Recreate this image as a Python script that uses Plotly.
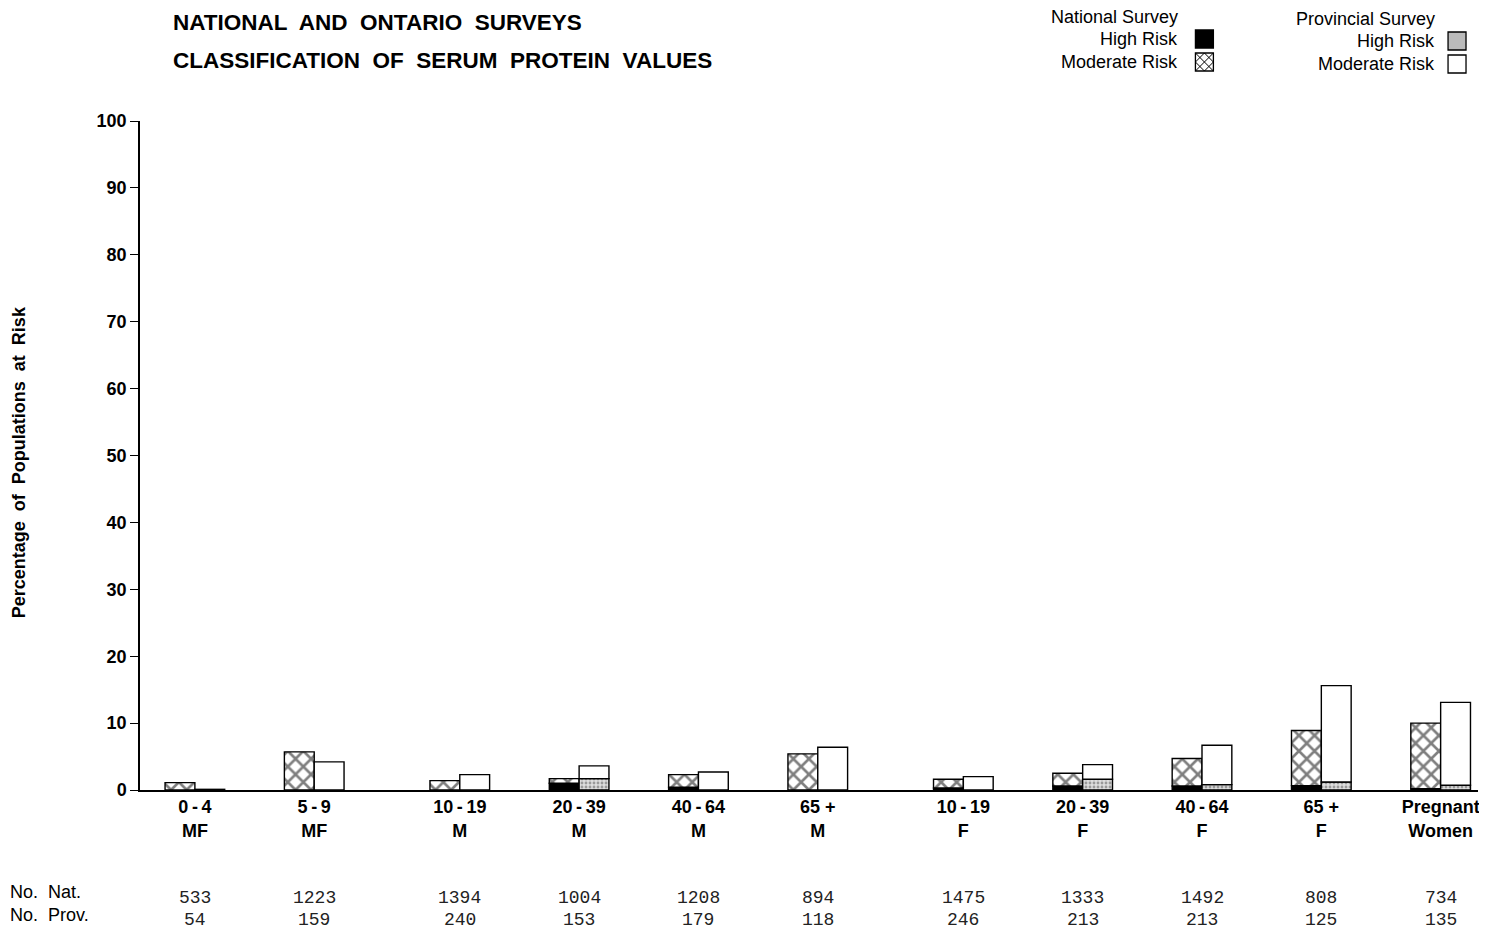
import plotly.graph_objects as go

# ---------------- data ----------------
groups = ["0\u2009-\u20094", "5\u2009-\u20099", "10\u2009-\u200919", "20\u2009-\u200939", "40\u2009-\u200964", "65 +",
          "10\u2009-\u200919", "20\u2009-\u200939", "40\u2009-\u200964", "65 +", "Pregnant"]
subgroups = ["MF", "MF", "M", "M", "M", "M", "F", "F", "F", "F", "Women"]
sections = ["children", "children", "male", "male", "male", "male",
            "female", "female", "female", "female", "female"]

nat_high = [0.0, 0.0, 0.0, 1.0, 0.4, 0.0, 0.3, 0.6, 0.6, 0.65, 0.2]
nat_moderate = [1.1, 5.7, 1.4, 0.7, 1.9, 5.4, 1.3, 1.9, 4.1, 8.25, 9.8]
prov_high = [0.0, 0.0, 0.0, 1.7, 0.0, 0.0, 0.0, 1.6, 0.8, 1.2, 0.7]
prov_moderate = [0.1, 4.2, 2.3, 1.9, 2.7, 6.4, 2.0, 2.2, 5.9, 14.4, 12.4]

n_national = ["533", "1223", "1394", "1004", "1208", "894", "1475", "1333", "1492", "808", "734"]
n_provincial = ["54", "159", "240", "153", "179", "118", "246", "213", "213", "125", "135"]

y_ticks = [0, 10, 20, 30, 40, 50, 60, 70, 80, 90, 100]

title_lines = ["NATIONAL  AND  ONTARIO  SURVEYS", "CLASSIFICATION  OF  SERUM  PROTEIN  VALUES"]
y_title = "Percentage  of  Populations  at  Risk"

# ---------------- layout helpers ----------------
SECTION_GAP = 0.22
xpos = []
s_count = 0
for i, s in enumerate(sections):
    if i > 0 and s != sections[i - 1]:
        s_count += 1
    xpos.append(i + SECTION_GAP * s_count)

tick_text = [f"<b>{g}</b><br><b>{s}</b>" for g, s in zip(groups, subgroups)]

OFF = 8                      # page body margin
W, H = 1487 - OFF, 934 - OFF
ML, MR, MT, MB = 132, 7, 113, 144
PW = W - ML - MR
PH = H - MT - MB

def px(xp):                  # page pixel -> paper x
    return (xp - OFF - ML) / PW

def py(yp):                  # page pixel -> paper y
    return (H - MB - (yp - OFF)) / PH

LINE = dict(color="black", width=1.4)

fig = go.Figure()
fig.add_trace(go.Bar(
    x=xpos, y=nat_high, offsetgroup="nat", name="National High Risk",
    marker=dict(color="black", line=LINE), showlegend=False))
fig.add_trace(go.Bar(
    x=xpos, y=nat_moderate, base=nat_high, offsetgroup="nat", name="National Moderate Risk",
    marker=dict(color="white", line=LINE,
                pattern=dict(shape="x", fgcolor="black", bgcolor="white", size=11, solidity=0.42)),
    showlegend=False))
fig.add_trace(go.Bar(
    x=xpos, y=prov_high, offsetgroup="prov", name="Provincial High Risk",
    marker=dict(color="white", line=LINE,
                pattern=dict(shape=".", fgcolor="#555555", bgcolor="#dddddd", size=4, solidity=0.4)),
    showlegend=False))
fig.add_trace(go.Bar(
    x=xpos, y=prov_moderate, base=prov_high, offsetgroup="prov", name="Provincial Moderate Risk",
    marker=dict(color="white", line=LINE), showlegend=False))

annotations = []
for i, t in enumerate(title_lines):
    annotations.append(dict(text=f"<b>{t}</b>", x=px(171), y=py([22, 60][i]), xref="paper", yref="paper",
                            xanchor="left", yanchor="middle", showarrow=False,
                            font=dict(size=22.5, color="black", family="Liberation Sans")))
annotations.append(dict(text=f"<b>{y_title}</b>", x=px(19), y=py(462), xref="paper", yref="paper",
                        textangle=-90, xanchor="center", yanchor="middle", showarrow=False,
                        font=dict(size=18, color="black", family="Liberation Sans")))
LEG_FONT = dict(size=18, color="black", family="Liberation Sans")
leg = [
    ("National Survey", 1182, 17), ("High Risk", 1182, 39), ("Moderate Risk", 1182, 62),
    ("Provincial Survey", 1439, 19), ("High Risk", 1439, 41), ("Moderate Risk", 1439, 64),
]
for t, xr, yc in leg:
    annotations.append(dict(text=t, x=px(xr), y=py(yc), xref="paper", yref="paper",
                            xanchor="right", yanchor="middle", showarrow=False, font=LEG_FONT))
annotations.append(dict(text="No.  Nat.", x=px(8), y=py(892), xref="paper", yref="paper",
                        xanchor="left", yanchor="middle", showarrow=False, font=LEG_FONT))
annotations.append(dict(text="No.  Prov.", x=px(8), y=py(915), xref="paper", yref="paper",
                        xanchor="left", yanchor="middle", showarrow=False, font=LEG_FONT))
CNT_FONT = dict(size=18, color="#222", family="Liberation Mono")
for i, xv in enumerate(xpos):
    annotations.append(dict(text=n_national[i], x=xv, y=py(898), xref="x", yref="paper",
                            xanchor="center", yanchor="middle", showarrow=False, font=CNT_FONT))
    annotations.append(dict(text=n_provincial[i], x=xv, y=py(920), xref="x", yref="paper",
                            xanchor="center", yanchor="middle", showarrow=False, font=CNT_FONT))

shapes = []
def sw(x0, y0, fill):
    return dict(type="rect", xref="paper", yref="paper", x0=px(x0), x1=px(x0 + 18),
                y0=py(y0 + 18), y1=py(y0), line=dict(color="black", width=1.3), fillcolor=fill)
shapes.append(sw(1197, 30, "black"))
shapes.append(sw(1197, 53, "white"))
shapes.append(sw(1450, 32, "#bbbbbb"))
shapes.append(sw(1450, 55, "white"))
x0s, y0s = 1197, 53
for a in range(-18, 19, 9):
    xs0 = max(0, a); xs1 = min(18, 18 + a)
    if xs1 > xs0:
        shapes.append(dict(type="line", xref="paper", yref="paper",
                           x0=px(x0s + xs0), y0=py(y0s + xs0 - a), x1=px(x0s + xs1), y1=py(y0s + xs1 - a),
                           line=dict(color="black", width=1)))
        shapes.append(dict(type="line", xref="paper", yref="paper",
                           x0=px(x0s + xs0), y0=py(y0s + 18 - (xs0 - a)), x1=px(x0s + xs1), y1=py(y0s + 18 - (xs1 - a)),
                           line=dict(color="black", width=1)))

fig.update_layout(
    width=W, height=H,
    margin=dict(l=ML, r=MR, t=MT, b=MB),
    paper_bgcolor="white", plot_bgcolor="white",
    barmode="group", bargap=0.5, bargroupgap=0,
    annotations=annotations, shapes=shapes,
    font=dict(family="Liberation Sans", color="black"),
)
fig.update_xaxes(
    range=[-0.46, 10.753], tickmode="array", tickvals=xpos, ticktext=tick_text,
    showline=True, linecolor="black", linewidth=1.5, ticks="", showgrid=False, zeroline=False,
    tickfont=dict(size=18, color="black", family="Liberation Sans"),
)
fig.update_yaxes(
    range=[0, 100], tickmode="array", tickvals=y_ticks,
    showline=True, linecolor="black", linewidth=1.5, ticks="outside", ticklen=8, tickwidth=1.3,
    tickcolor="black", showgrid=False, zeroline=False,
    tickfont=dict(size=18, color="black", family="Liberation Sans", weight="bold"),
)

fig.write_html("out.html")
